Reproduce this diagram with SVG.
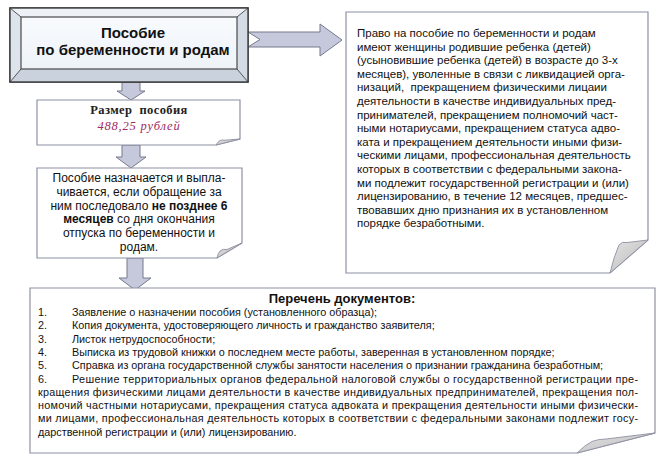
<svg xmlns="http://www.w3.org/2000/svg" width="660" height="461" viewBox="0 0 660 461">
<defs>
<linearGradient id="flap" x1="0" y1="0" x2="1" y2="1">
<stop offset="0" stop-color="#e4e4e4"/><stop offset="1" stop-color="#b8b8b8"/>
</linearGradient>
<linearGradient id="face" x1="0" y1="0" x2="0" y2="1">
<stop offset="0" stop-color="#f8fbfe"/><stop offset="1" stop-color="#eef3f8"/>
</linearGradient>
</defs>
<style>
.paper{fill:#ffffff;stroke:#8e91a3;stroke-width:1.2}
.flap{fill:url(#flap);stroke:#8e91a3;stroke-width:0.9}
.arrow{fill:#c6c8dc;stroke:#77798c;stroke-width:1}
.t{font-family:"Liberation Sans",Arial,sans-serif;fill:#111}
.title{font-size:15px;font-weight:bold;text-anchor:middle}
.rb{font-size:11.5px}
.c3{font-size:12px;text-anchor:middle}
.l4{font-size:10.8px}
.b{font-weight:bold}
.serif{font-family:"Liberation Serif","Times New Roman",serif;font-size:12.5px;text-anchor:middle}
</style>

<g id="connectors">
<polygon class="arrow" points="248,32 320,32 320,24 342,40 320,56 320,47 248,47 260,39.5"/>
<polygon class="arrow" points="122,82 140,82 140,91 145,91 131,100 117,91 122,91"/>
<polygon class="arrow" points="122,145 140,145 140,157 146,157 131,168 116,157 122,157"/>
<polygon class="arrow" points="127,258 143,258 143,278 151,278 135,290 119,278 127,278"/>
</g>

<g id="node-title">
<rect x="10" y="8" width="238" height="74" fill="#e3e9f0" stroke="#3c3c3c" stroke-width="1.4"/>
<polygon points="10,8 248,8 237,17 21,17" fill="#eef2f6"/>
<polygon points="10,8 21,17 21,69 10,82" fill="#dde4ec"/>
<polygon points="248,8 248,82 237,69 237,17" fill="#d3dbe5"/>
<polygon points="10,82 21,69 237,69 248,82" fill="#c9d2dd"/>
<path d="M10,8 L21,17 M248,8 L237,17 M10,82 L21,69 M248,82 L237,69" stroke="#555" stroke-width="1"/>
<rect x="10" y="8" width="238" height="74" fill="none" stroke="#3c3c3c" stroke-width="1.4"/>
<rect x="21" y="17" width="216" height="52" fill="url(#face)" stroke="#4a4a4a" stroke-width="1.2"/>
<text class="t title" x="133" y="38">Пособие</text>
<text class="t title" x="133" y="55">по беременности и родам</text>
</g>

<g id="node-right">
<path class="paper" d="M346,12 H648 V240 L610,273 H346 Z"/>
<path class="flap" d="M648,240 L610,273 Q614,256 619,245 Q622,241 627,242.5 Z"/>
<text class="t rb" x="357" y="37">Право на пособие по беременности и родам</text>
<text class="t rb" x="357" y="50.6">имеют женщины родившие ребенка (детей)</text>
<text class="t rb" x="357" y="64.2">(усыновившие ребенка (детей) в возрасте до 3-х</text>
<text class="t rb" x="357" y="77.8">месяцев), уволенные в связи с ликвидацией орга-</text>
<text class="t rb" x="357" y="91.4" xml:space="preserve">низаций,  прекращением физическими лицаии</text>
<text class="t rb" x="357" y="105">деятельности в качестве индивидуальных пред-</text>
<text class="t rb" x="357" y="118.6">принимателей, прекращением полномочий част-</text>
<text class="t rb" x="357" y="132.2">ными нотариусами, прекращением статуса адво-</text>
<text class="t rb" x="357" y="145.8">ката и прекращением деятельности иными физи-</text>
<text class="t rb" x="357" y="159.4">ческими лицами, профессиональная деятельность</text>
<text class="t rb" x="357" y="173">которых в соответствии с федеральными закона-</text>
<text class="t rb" x="357" y="186.6">ми подлежит государственной регистрации и (или)</text>
<text class="t rb" x="357" y="200.2">лицензированию, в течение 12 месяцев, предшес-</text>
<text class="t rb" x="357" y="213.8">твовавших дню признания их в установленном</text>
<text class="t rb" x="357" y="227.4">порядке безработными.</text>
</g>

<g id="node-size">
<path class="paper" d="M37,100 H240 V139 L216,145 H37 Z"/>
<path class="flap" d="M240,139 L216,145 Q218,141.5 220,140.5 Q222,139.8 225,140.2 Z"/>
<text class="serif" x="139" y="114" font-weight="bold" fill="#222" letter-spacing="0.4" xml:space="preserve">Размер  пособия</text>
<text class="serif" x="139" y="130" font-style="italic" fill="#9e2a63" letter-spacing="0.8">488,25 рублей</text>
</g>

<g id="node-term">
<path class="paper" d="M37,168 H242 V243 L217,258 H37 Z"/>
<path class="flap" d="M242,243 L217,258 Q218,253 220,251 Q223,248.5 227,249.5 Z"/>
<text class="t c3" x="139" y="182">Пособие назначается и выпла-</text>
<text class="t c3" x="139" y="195.8">чивается, если обращение за</text>
<text class="t c3" x="139" y="209.6">ним последовало <tspan class="b">не позднее 6</tspan></text>
<text class="t c3" x="139" y="223.4"><tspan class="b">месяцев</tspan> со дня окончания</text>
<text class="t c3" x="139" y="237.2">отпуска по беременности и</text>
<text class="t c3" x="139" y="251">родам.</text>
</g>

<g id="node-docs">
<path class="paper" d="M30,288 H655 V433 L577,453 H30 Z"/>
<path class="flap" d="M655,433 L577,453 Q585,445 592,441.5 Q598,439 606,439 Z"/>
<text class="t b" x="342" y="303" font-size="13" text-anchor="middle">Перечень документов:</text>
<text class="t l4" x="38" y="316">1.</text>
<text class="t l4" x="72" y="316">Заявление о назначении пособия (установленного образца);</text>
<text class="t l4" x="38" y="329.3">2.</text>
<text class="t l4" x="72" y="329.3">Копия документа, удостоверяющего личность и гражданство заявителя;</text>
<text class="t l4" x="38" y="342.6">3.</text>
<text class="t l4" x="72" y="342.6">Листок нетрудоспособности;</text>
<text class="t l4" x="38" y="355.9">4.</text>
<text class="t l4" x="72" y="355.9">Выписка из трудовой книжки о последнем месте работы, заверенная в установленном порядке;</text>
<text class="t l4" x="38" y="369.2">5.</text>
<text class="t l4" x="72" y="369.2">Справка из органа государственной службы занятости населения о признании гражданина безработным;</text>
<text class="t l4" x="38" y="382.5">6.</text>
<text class="t l4" x="72" y="382.5" textLength="566" lengthAdjust="spacing">Решение территориальных органов федеральной налоговой службы о государственной регистрации пре-</text>
<text class="t l4" x="38" y="395.8" textLength="600" lengthAdjust="spacing">кращения физическими лицами деятельности в качестве индивидуальных предпринимателей, прекращения пол-</text>
<text class="t l4" x="38" y="409.1" textLength="600" lengthAdjust="spacing">номочий частными нотариусами, прекращения статуса адвоката и прекращения деятельности иными физически-</text>
<text class="t l4" x="38" y="422.4" textLength="600" lengthAdjust="spacing">ми лицами, профессиональная деятельность которых в соответствии с федеральными законами подлежит госу-</text>
<text class="t l4" x="38" y="435.7">дарственной регистрации и (или) лицензированию.</text>
</g>
</svg>
